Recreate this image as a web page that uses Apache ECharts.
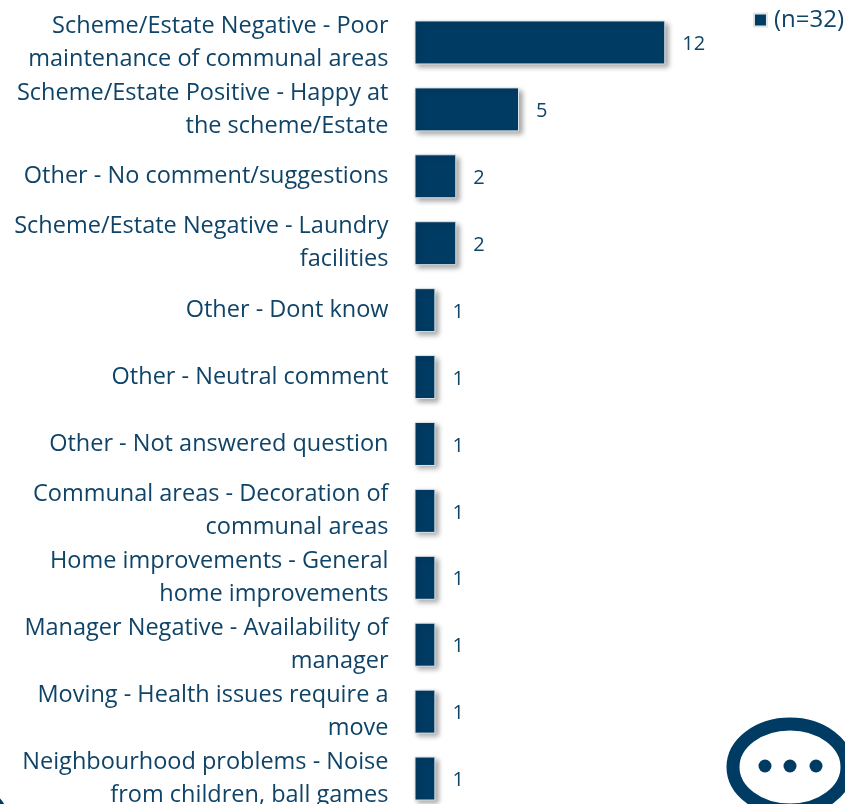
<!DOCTYPE html>
<html><head><meta charset="utf-8">
<style>html,body{margin:0;padding:0;background:#fff}#c{width:845px;height:804px}</style>
<script src="https://cdn.jsdelivr.net/npm/echarts@6/dist/echarts.min.js"></script>
</head><body><div id="c"></div>
<script>
const categories = [
 "Scheme/Estate Negative - Poor\nmaintenance of communal areas",
 "Scheme/Estate Positive - Happy at\nthe scheme/Estate",
 "Other - No comment/suggestions",
 "Scheme/Estate Negative - Laundry\nfacilities",
 "Other - Dont know",
 "Other - Neutral comment",
 "Other - Not answered question",
 "Communal areas - Decoration of\ncommunal areas",
 "Home improvements - General\nhome improvements",
 "Manager Negative - Availability of\nmanager",
 "Moving - Health issues require a\nmove",
 "Neighbourhood problems - Noise\nfrom children, ball games"
];
const values = [12,5,2,2,1,1,1,1,1,1,1,1];
const seriesName = "(n=32)";
const navy = "#003b64", textCol = "#0f4468", font = "'Open Sans'";
const chart = echarts.init(document.getElementById('c'),null,{renderer:'canvas'});
chart.setOption({
 animation:false,
 backgroundColor:'#fff',
 grid:{left:414.5,top:9,width:418,height:803,containLabel:false,outerBoundsMode:'none'},
 legend:{show:true,right:-4,top:3,itemWidth:13,itemHeight:13,itemGap:0,
   icon:'rect',textStyle:{color:textCol,fontFamily:font,fontSize:24,padding:[4,0,0,2]}},
 xAxis:{type:'value',min:0,max:20,show:false},
 yAxis:{type:'category',inverse:true,data:categories,
   axisLine:{show:false},axisTick:{show:false},
   axisLabel:{margin:26,color:textCol,fontFamily:font,fontSize:23.5,lineHeight:33,align:'right',interval:0,padding:[4,0,0,0]}},
 series:[{name:seriesName,type:'bar',data:values,barWidth:44,
   itemStyle:{color:navy,borderColor:'#dfe6ea',borderWidth:1,shadowColor:'rgba(0,0,0,0.35)',shadowBlur:5,shadowOffsetX:3,shadowOffsetY:3},
   label:{show:true,position:'right',distance:17,offset:[0,2],color:textCol,fontFamily:font,fontSize:20}}],
 graphic:[
  {type:'ellipse',shape:{cx:790,cy:767,rx:57,ry:43},style:{fill:'#fff',stroke:navy,lineWidth:13},z:10},
  {type:'circle',shape:{cx:765,cy:766,r:6.5},style:{fill:navy},z:11},
  {type:'circle',shape:{cx:790,cy:766,r:6.5},style:{fill:navy},z:11},
  {type:'circle',shape:{cx:816,cy:766,r:6.5},style:{fill:navy},z:11},
  {type:'circle',shape:{cx:-12,cy:812,r:18},style:{fill:navy},z:11}
 ]
});
</script></body></html>
